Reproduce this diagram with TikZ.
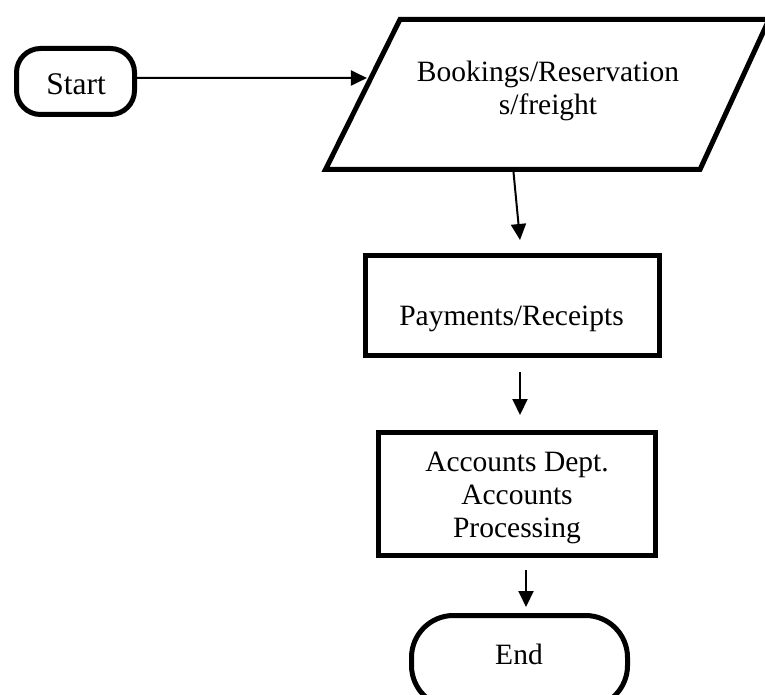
\documentclass[tikz,border=0pt]{standalone}
\usepackage{fontspec}
\setmainfont{Liberation Serif}
\usetikzlibrary{arrows.meta,calc}
\begin{document}
\begin{tikzpicture}[x=1pt,y=-1pt,
  shapebox/.style={draw=black, line width=5pt, inner sep=0pt, outer sep=2.5pt},
  lbl/.style={font=\fontsize{29.5}{33}\selectfont, align=center, anchor=base, inner sep=0pt},
  arr/.style={line width=2pt, -{Triangle[length=16pt,width=15pt]}},
]
\useasboundingbox (0,0) rectangle (765,695);
\clip (0,0) rectangle (765,695);

% shapes
\node[shapebox, rounded corners=24pt, minimum width=118pt, minimum height=66pt] (start) at (75.5,81.5) {};
\node[inner sep=0pt, outer sep=0pt, minimum width=443.5pt, minimum height=150pt] (book) at (547.25,94.5) {};
\draw[line width=5pt] (book.south west) -- ($(book.north west)+(74.5,0)$) -- (book.north east) -- ($(book.south east)+(-69,0)$) -- cycle;
\coordinate (bin) at ($(book.south west)!0.61!($(book.north west)+(74.5,0)$)$);
\node[shapebox, minimum width=294pt, minimum height=100pt] (pay) at (512.5,305.5) {};
\node[shapebox, minimum width=277.5pt, minimum height=123pt] (acc) at (516.75,494) {};
\node[shapebox, rounded corners=42pt, minimum width=216pt, minimum height=92pt] (end) at (519.5,661.5) {};

% texts (base anchor = baseline of the last line)
\node[lbl, font=\fontsize{31.5}{35}\selectfont] (startT) at (76,95) {Start};
\node[lbl] (bookT) at (548,115) {Bookings/Reservation\\s/freight};
\node[lbl] (payT) at (511.5,325) {Payments/Receipts};
\node[lbl] (accT) at (517,537) {Accounts Dept.\\Accounts\\Processing};
\node[lbl] (endT) at (519,664) {End};

% connectors
\draw[arr] ([yshift=3.5pt]start.east) -- ([xshift=-4pt]bin);
\draw[arr] ([xshift=-34pt]book.south) -- ([xshift=7.5pt,yshift=13pt]pay.north);
\draw[arr] ([xshift=7.5pt,yshift=-14pt]pay.south) -- ([xshift=3.25pt,yshift=15pt]acc.north);
\draw[arr] ([xshift=9.25pt,yshift=-12pt]acc.south) -- ([xshift=6.5pt,yshift=6pt]end.north);
\end{tikzpicture}
\end{document}
